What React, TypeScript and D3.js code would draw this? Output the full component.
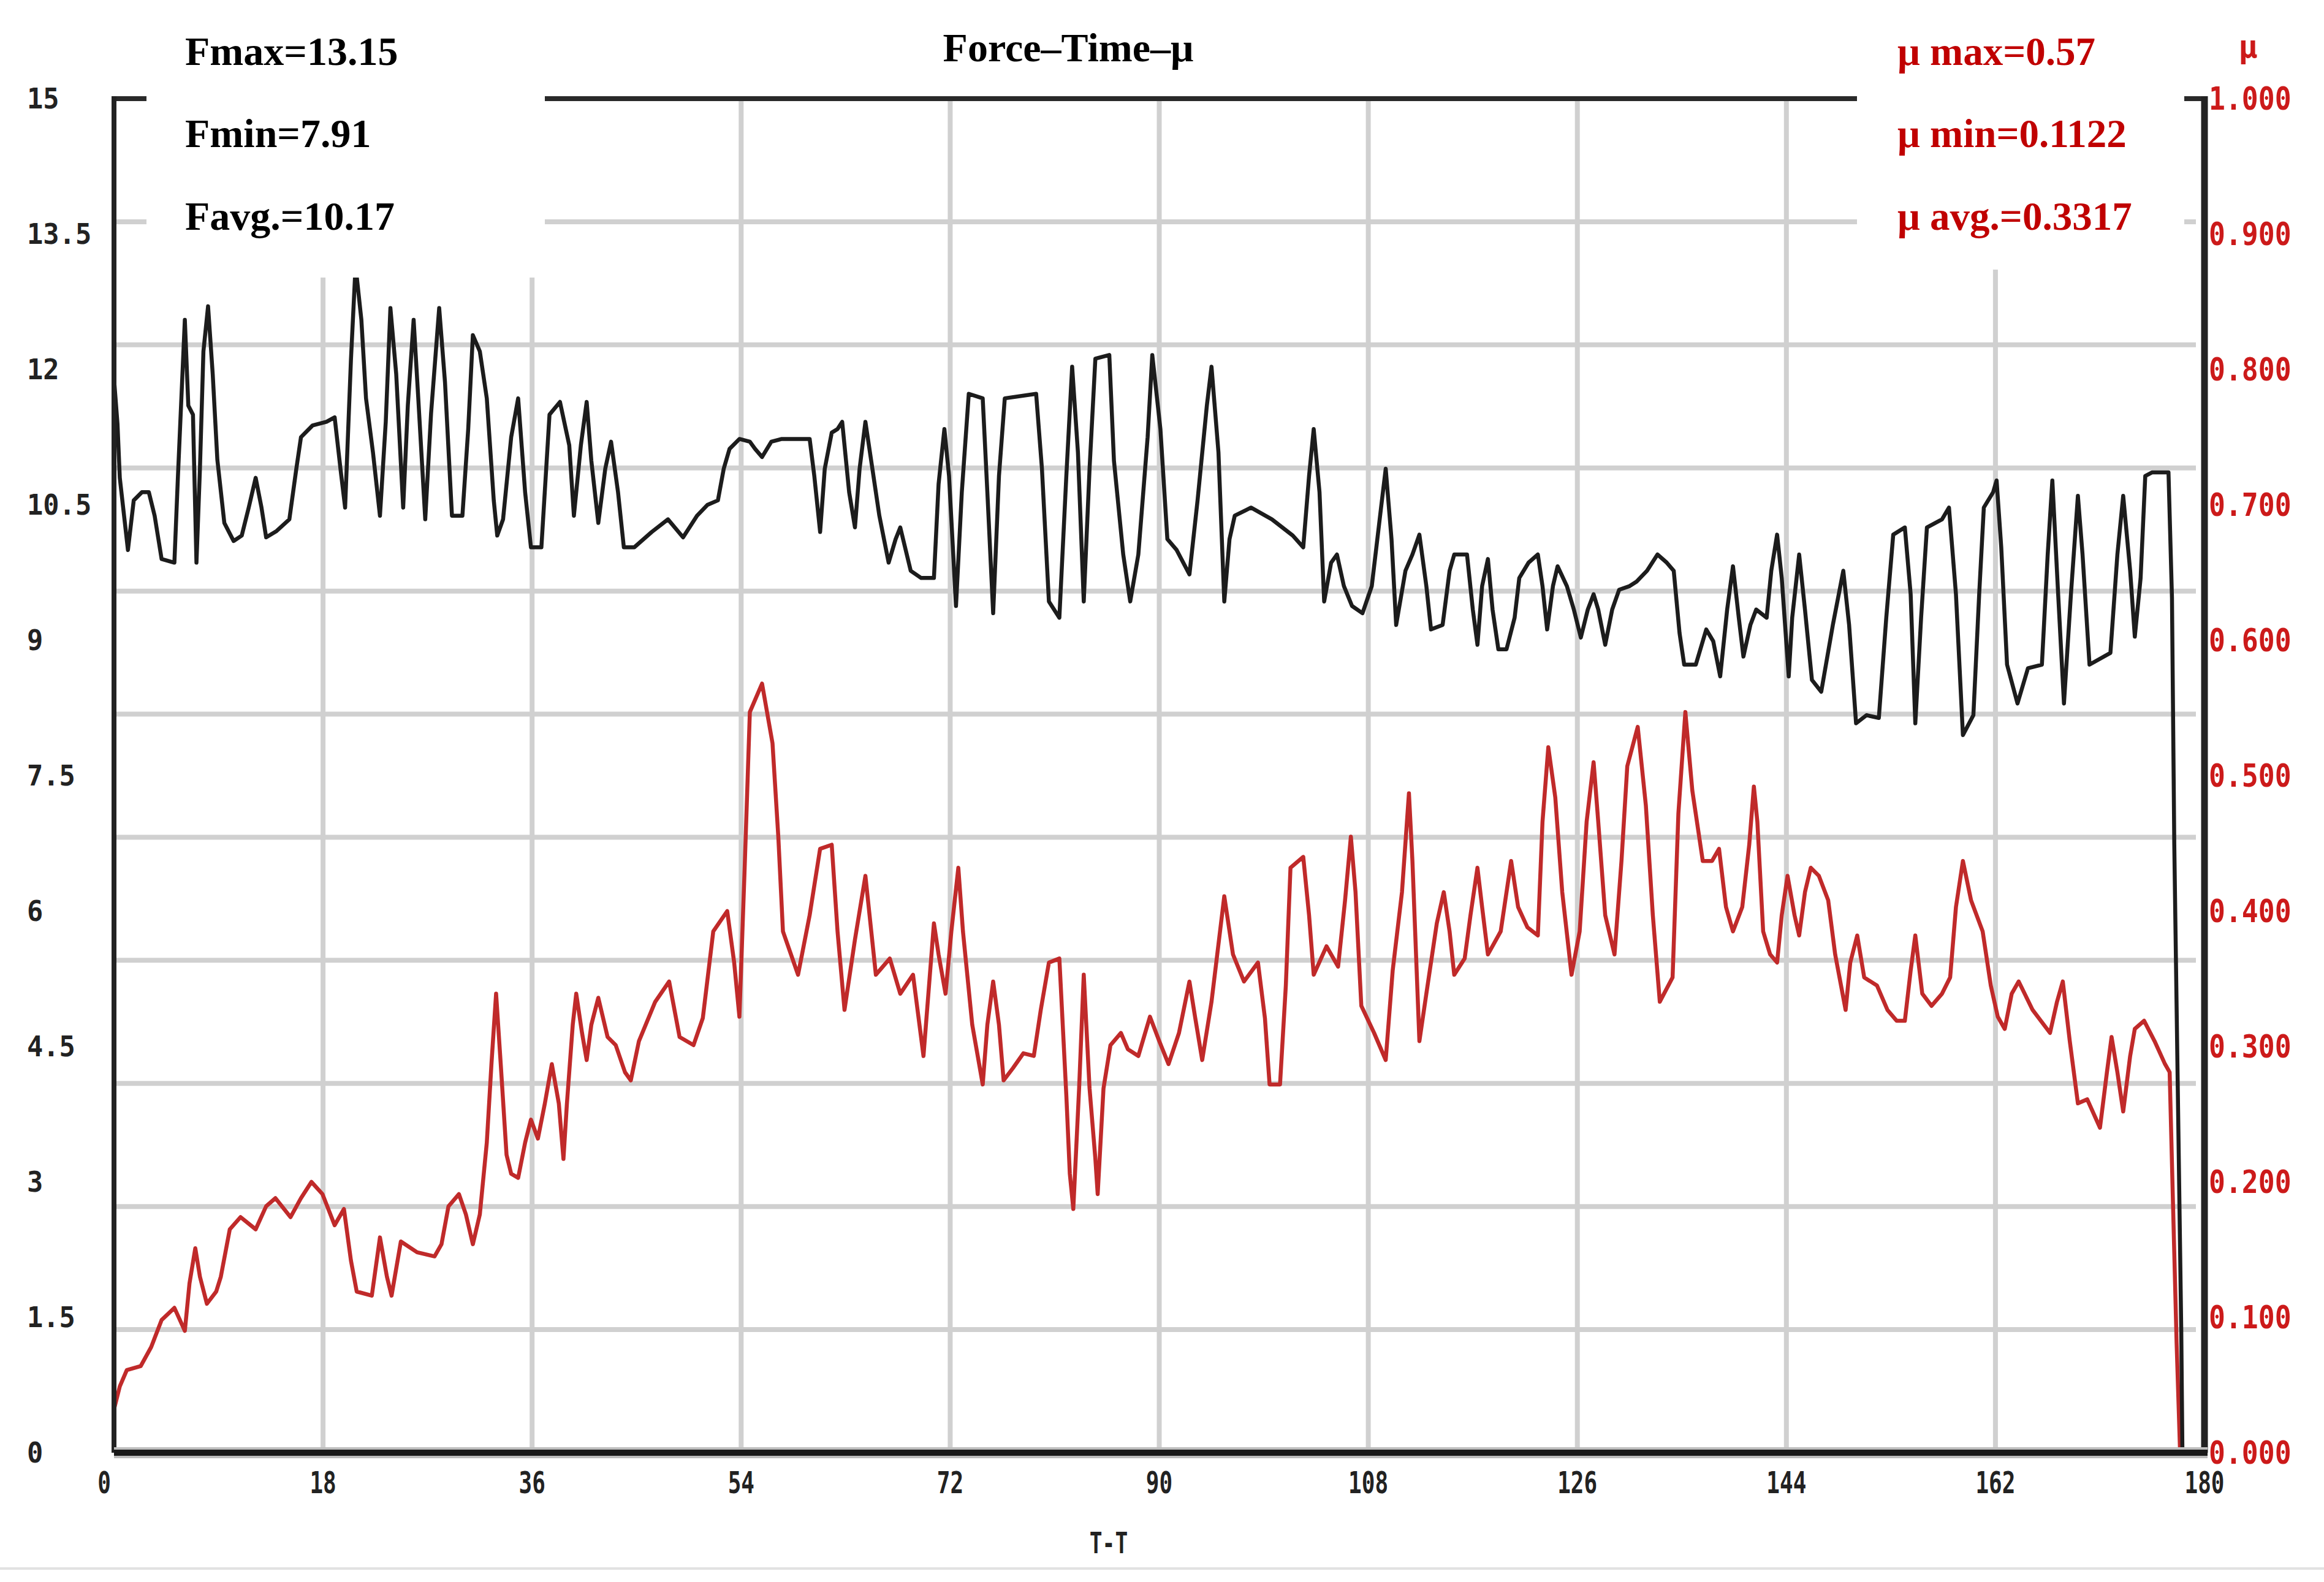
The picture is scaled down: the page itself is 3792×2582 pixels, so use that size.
import { useEffect, useRef } from 'react';
import * as d3 from 'd3';

const W = 3792;
const H = 2582;

// axis ticks
const timeTicks = [0, 18, 36, 54, 72, 90, 108, 126, 144, 162, 180];
const forceTicks = [0, 1.5, 3, 4.5, 6, 7.5, 9, 10.5, 12, 13.5, 15];
const muTicks = [0, 0.1, 0.2, 0.3, 0.4, 0.5, 0.6, 0.7, 0.8, 0.9, 1.0];

// summary texts
const forceStats = ['Fmax=13.15', 'Fmin=7.91', 'Favg.=10.17'];
const muStats = ['\u03bc max=0.57', '\u03bc min=0.1122', '\u03bc avg.=0.3317'];
const chartTitle = 'Force\u2013Time\u2013\u03bc';
const xTitle = 'T-T';

// force series (N)
const forceTime = [
    0, 0.3, 0.5, 1.2, 1.7, 2.4, 3.0, 3.5, 4.1, 5.2, 5.5, 6.1, 6.4, 6.8, 7.1, 7.4, 7.7, 8.1, 8.5, 8.9,
    9.5, 10.3, 11.0, 11.6, 12.2, 12.7, 13.1, 14.0, 15.1, 15.7, 16.1, 17.1, 18.3, 19.0, 19.5, 19.9, 20.4, 20.8, 21.3, 21.7,
    22.3, 22.9, 23.4, 23.8, 24.3, 24.9, 25.3, 25.8, 26.2, 26.8, 27.3, 28.0, 28.5, 29.1, 30.0, 30.5, 30.9, 31.5, 32.1, 32.7,
    33.0, 33.5, 34.2, 34.8, 35.4, 35.9, 36.8, 37.5, 38.4, 39.2, 39.6, 40.2, 40.7, 41.1, 41.7, 42.3, 42.8, 43.4, 43.9, 44.8,
    46.3, 47.7, 49.0, 50.2, 51.1, 52.0, 52.5, 53.0, 53.85, 54.75, 55.2, 55.8, 56.6, 57.5, 59.9, 60.3, 60.8, 61.2, 61.8, 62.3,
    62.7, 63.3, 63.8, 64.2, 64.7, 65.3, 65.9, 66.7, 67.3, 67.7, 68.6, 69.5, 70.6, 71.0, 71.5, 71.9, 72.5, 73.0, 73.6, 74.8,
    75.2, 75.7, 76.2, 76.7, 79.4, 79.9, 80.5, 81.4, 82.0, 82.5, 83.0, 83.5, 84.0, 84.5, 85.7, 86.1, 86.9, 87.5, 88.2, 89.0,
    89.4, 90.1, 90.7, 91.5, 92.6, 93.3, 94.1, 94.5, 95.1, 95.6, 96.05, 96.5, 97.9, 99.7, 101.5, 102.4, 102.9, 103.3, 103.8, 104.2,
    104.8, 105.3, 105.9, 106.6, 107.5, 108.3, 109.1, 109.5, 110.0, 110.4, 111.2, 111.8, 112.4, 113.0, 113.4, 114.4, 115.0, 115.4, 116.5, 117.0,
    117.4, 117.8, 118.3, 118.7, 119.2, 119.9, 120.6, 121.0, 121.8, 122.6, 123.0, 123.4, 123.9, 124.3, 125.1, 125.7, 126.3, 126.9, 127.4, 127.8,
    128.4, 129.0, 129.6, 130.5, 131.1, 132.0, 132.9, 133.7, 134.3, 134.8, 135.2, 136.2, 137.1, 137.7, 138.3, 138.9, 139.4, 139.9, 140.3, 140.9,
    141.4, 142.3, 142.7, 143.2, 143.6, 144.2, 144.5, 145.1, 145.6, 146.2, 147.0, 148.0, 148.9, 149.4, 150.0, 150.9, 151.96, 152.6, 153.2, 154.2,
    154.7, 155.1, 155.6, 156.1, 157.4, 158.0, 158.6, 159.2, 160.1, 160.6, 161.0, 161.8, 162.1, 162.5, 163.0, 163.9, 164.8, 166.0, 166.5, 166.9,
    167.4, 167.9, 168.5, 169.1, 169.5, 170.1, 171.9, 172.5, 173.0, 173.6, 174.0, 174.5, 174.9, 175.5, 176.9, 177.2, 177.4, 177.7, 178.0, 178.1,
];
const forceValues = [
    11.9, 11.4, 10.8, 10.0, 10.55, 10.64, 10.64, 10.38, 9.9, 9.86, 10.8, 12.55, 11.6, 11.5, 9.86, 10.9, 12.2, 12.7, 11.95, 11.0,
    10.3, 10.1, 10.16, 10.47, 10.8, 10.47, 10.14, 10.21, 10.34, 10.9, 11.25, 11.38, 11.42, 11.47, 10.9, 10.47, 12.1, 13.15, 12.55, 11.68,
    11.08, 10.38, 11.42, 12.68, 11.95, 10.47, 11.6, 12.55, 11.68, 10.34, 11.51, 12.68, 11.86, 10.38, 10.38, 11.34, 12.38, 12.2, 11.68, 10.55,
    10.16, 10.34, 11.25, 11.68, 10.64, 10.03, 10.03, 11.5, 11.64, 11.16, 10.38, 11.16, 11.64, 10.99, 10.3, 10.9, 11.2, 10.64, 10.03, 10.03,
    10.2, 10.34, 10.14, 10.38, 10.5, 10.55, 10.9, 11.12, 11.23, 11.2, 11.12, 11.03, 11.2, 11.23, 11.23, 10.82, 10.2, 10.9, 11.3, 11.34,
    11.42, 10.64, 10.25, 10.9, 11.42, 10.9, 10.38, 9.86, 10.12, 10.25, 9.77, 9.69, 9.69, 10.73, 11.34, 10.82, 9.38, 10.64, 11.73, 11.68,
    10.64, 9.3, 10.82, 11.68, 11.73, 10.9, 9.43, 9.25, 10.82, 12.03, 11.08, 9.43, 10.9, 12.12, 12.16, 10.99, 9.95, 9.43, 9.95, 11.25,
    12.16, 11.34, 10.12, 10.0, 9.73, 10.55, 11.6, 12.03, 11.08, 9.43, 10.12, 10.38, 10.47, 10.34, 10.16, 10.03, 10.82, 11.34, 10.64, 9.43,
    9.86, 9.95, 9.6, 9.38, 9.3, 9.6, 10.47, 10.9, 10.12, 9.17, 9.77, 9.95, 10.17, 9.6, 9.12, 9.17, 9.77, 9.95, 9.95, 9.34,
    8.95, 9.6, 9.9, 9.34, 8.9, 8.9, 9.25, 9.69, 9.86, 9.95, 9.6, 9.12, 9.6, 9.82, 9.6, 9.34, 9.03, 9.34, 9.51, 9.34,
    8.95, 9.34, 9.56, 9.6, 9.65, 9.77, 9.95, 9.86, 9.77, 9.08, 8.73, 8.73, 9.12, 8.99, 8.6, 9.34, 9.82, 9.25, 8.82, 9.17,
    9.34, 9.25, 9.77, 10.17, 9.69, 8.6, 9.25, 9.95, 9.34, 8.56, 8.43, 9.17, 9.77, 9.17, 8.08, 8.17, 8.14, 9.25, 10.17, 10.25,
    9.51, 8.08, 9.25, 10.25, 10.34, 10.47, 9.51, 7.95, 8.17, 9.51, 10.47, 10.64, 10.77, 10.03, 8.73, 8.3, 8.69, 8.73, 9.95, 10.77,
    9.51, 8.3, 9.51, 10.6, 9.95, 8.73, 8.86, 9.95, 10.6, 9.77, 9.04, 9.69, 10.82, 10.86, 10.86, 9.47, 6.73, 4.04, 1.35, 0,
];

// friction coefficient series
const muTime = [
    0, 0.5, 1.1, 2.3, 3.2, 4.1, 5.2, 6.1, 6.5, 7.0, 7.4, 8.0, 8.8, 9.2, 9.97, 10.9, 12.2, 13.1, 13.9, 15.2,
    16.1, 17.0, 17.95, 19.0, 19.8, 20.4, 20.9, 22.2, 22.9, 23.5, 23.9, 24.7, 26.1, 27.6, 28.2, 28.8, 29.7, 30.3, 30.9, 31.5,
    32.1, 32.5, 32.9, 33.3, 33.8, 34.2, 34.8, 35.4, 35.9, 36.5, 37.1, 37.7, 38.3, 38.7, 39.0, 39.5, 39.8, 40.3, 40.7, 41.1,
    41.7, 42.5, 43.2, 44.0, 44.5, 45.2, 46.6, 47.8, 48.7, 49.9, 50.7, 51.6, 52.8, 53.4, 53.85, 54.3, 54.75, 55.8, 56.7, 57.2,
    57.6, 58.9, 59.9, 60.8, 61.8, 62.3, 62.9, 63.8, 64.7, 65.6, 66.8, 67.7, 68.8, 69.7, 70.6, 71.0, 71.6, 72.1, 72.7, 73.1,
    73.9, 74.8, 75.2, 75.7, 76.2, 76.6, 77.4, 78.3, 79.2, 79.8, 80.5, 81.4, 82.0, 82.3, 82.6, 83.1, 83.5, 84.0, 84.5, 84.7,
    85.2, 85.8, 86.7, 87.3, 88.2, 89.2, 90.0, 90.8, 91.7, 92.6, 93.1, 93.7, 94.5, 95.6, 96.35, 97.3, 98.5, 99.1, 99.5, 100.4,
    100.9, 101.3, 102.4, 102.9, 103.3, 104.4, 105.4, 106.0, 106.5, 106.9, 107.4, 108.5, 109.5, 110.1, 110.9, 111.5, 111.8, 112.4, 113.0, 113.9,
    114.5, 115.0, 115.4, 116.3, 116.8, 117.4, 117.8, 118.3, 119.4, 120.3, 120.9, 121.7, 122.6, 123.0, 123.5, 124.1, 124.7, 125.5, 126.2, 126.8,
    127.4, 127.8, 128.4, 129.2, 129.8, 130.3, 131.2, 131.9, 132.5, 133.1, 134.2, 134.7, 135.3, 135.9, 136.8, 137.6, 138.2, 138.8, 139.4, 140.2,
    140.8, 141.2, 141.5, 142.0, 142.6, 143.2, 143.6, 144.1, 144.7, 145.1, 145.6, 146.1, 146.8, 147.6, 148.2, 149.1, 149.5, 150.1, 150.7, 151.8,
    152.7, 153.5, 154.2, 154.7, 155.1, 155.7, 156.5, 157.4, 158.1, 158.6, 159.2, 159.9, 160.9, 161.6, 162.2, 162.8, 163.4, 164.0, 165.2, 166.7,
    167.3, 167.8, 168.4, 169.1, 169.9, 171.0, 171.6, 172.0, 172.5, 173.0, 173.6, 174.0, 174.8, 175.7, 176.6, 177.0, 177.3, 177.6, 177.9,
];
const muValues = [
    0.032, 0.049, 0.061, 0.064, 0.078, 0.098, 0.107, 0.09, 0.125, 0.151, 0.13, 0.11, 0.119, 0.13, 0.165, 0.174, 0.165, 0.182, 0.188, 0.174,
    0.188, 0.2, 0.191, 0.168, 0.18, 0.142, 0.119, 0.116, 0.159, 0.13, 0.116, 0.156, 0.148, 0.145, 0.154, 0.182, 0.191, 0.176, 0.154, 0.176,
    0.229, 0.287, 0.339, 0.287, 0.22, 0.206, 0.203, 0.229, 0.246, 0.232, 0.258, 0.287, 0.258, 0.217, 0.258, 0.316, 0.339, 0.31, 0.29, 0.316,
    0.336, 0.307, 0.301, 0.281, 0.275, 0.304, 0.333, 0.348, 0.307, 0.301, 0.321, 0.385, 0.4, 0.362, 0.322, 0.431, 0.547, 0.568, 0.524, 0.455,
    0.385, 0.353, 0.397, 0.446, 0.449, 0.385, 0.327, 0.379, 0.426, 0.353, 0.365, 0.339, 0.353, 0.293, 0.391, 0.368, 0.339, 0.385, 0.432, 0.385,
    0.316, 0.272, 0.316, 0.348, 0.316, 0.275, 0.284, 0.295, 0.293, 0.327, 0.362, 0.365, 0.264, 0.206, 0.18, 0.269, 0.353, 0.269, 0.217, 0.191,
    0.269, 0.301, 0.31, 0.298, 0.293, 0.322, 0.304, 0.287, 0.31, 0.348, 0.321, 0.29, 0.333, 0.411, 0.368, 0.348, 0.362, 0.321, 0.272, 0.272,
    0.345, 0.432, 0.44, 0.397, 0.353, 0.374, 0.359, 0.408, 0.455, 0.414, 0.33, 0.31, 0.29, 0.356, 0.414, 0.487, 0.437, 0.304, 0.339, 0.391,
    0.414, 0.385, 0.353, 0.365, 0.397, 0.432, 0.403, 0.368, 0.385, 0.437, 0.403, 0.388, 0.382, 0.466, 0.521, 0.484, 0.414, 0.353, 0.385, 0.466,
    0.51, 0.466, 0.397, 0.368, 0.437, 0.507, 0.536, 0.478, 0.397, 0.333, 0.351, 0.472, 0.547, 0.489, 0.437, 0.437, 0.446, 0.403, 0.385, 0.403,
    0.449, 0.492, 0.466, 0.385, 0.368, 0.362, 0.397, 0.426, 0.397, 0.382, 0.414, 0.432, 0.426, 0.408, 0.368, 0.327, 0.362, 0.382, 0.351, 0.345,
    0.327, 0.319, 0.319, 0.356, 0.382, 0.339, 0.33, 0.339, 0.351, 0.403, 0.437, 0.408, 0.385, 0.345, 0.322, 0.313, 0.339, 0.348, 0.327, 0.31,
    0.333, 0.348, 0.304, 0.258, 0.261, 0.24, 0.281, 0.307, 0.281, 0.252, 0.293, 0.313, 0.319, 0.304, 0.287, 0.281, 0.18, 0.081, 0,
];

const MONO = '"DejaVu Sans Mono", monospace';
const SERIF = '"Liberation Serif", "DejaVu Serif", serif';

export default function App() {
    const svgRef = useRef<SVGSVGElement>(null);

    useEffect(() => {
        if (!svgRef.current) return;
        const svg = d3.select(svgRef.current);
        svg.selectAll('*').remove();

        const left = 186;
        const right = 3597;
        const top = 161;
        const bottom = 2371;

        const x = d3.scaleLinear().domain([0, 180]).range([left, right]);
        const yF = d3.scaleLinear().domain([0, 15]).range([bottom, top]);
        const yMu = d3.scaleLinear().domain([0, 1]).range([bottom, top]);

        svg.append('rect').attr('width', W).attr('height', H).attr('fill', '#fff');

        // horizontal grid: the instrument splits the force range in 11 bands
        const gridF = d3.range(1, 11).map((k) => (k * 15) / 11);
        svg
            .append('g')
            .selectAll('line')
            .data(gridF)
            .join('line')
            .attr('x1', left)
            .attr('x2', right - 14)
            .attr('y1', (d) => yF(d))
            .attr('y2', (d) => yF(d))
            .attr('stroke', '#d0d0d0')
            .attr('stroke-width', 8);

        svg
            .append('g')
            .selectAll('line')
            .data(timeTicks.slice(1, -1))
            .join('line')
            .attr('x1', (d) => x(d))
            .attr('x2', (d) => x(d))
            .attr('y1', top)
            .attr('y2', bottom)
            .attr('stroke', '#d0d0d0')
            .attr('stroke-width', 8);

        // series
        const forcePts = forceTime.map((t, i) => [t, forceValues[i]] as [number, number]);
        const muPts = muTime.map((t, i) => [t, muValues[i]] as [number, number]);

        svg
            .append('path')
            .datum(muPts)
            .attr('d', d3.line<[number, number]>().x((d) => x(d[0])).y((d) => yMu(d[1])))
            .attr('fill', 'none')
            .attr('stroke', '#c02a2a')
            .attr('stroke-width', 6.5)
            .attr('stroke-linejoin', 'round');

        svg
            .append('path')
            .datum(forcePts)
            .attr('d', d3.line<[number, number]>().x((d) => x(d[0])).y((d) => yF(d[1])))
            .attr('fill', 'none')
            .attr('stroke', '#1c1c1c')
            .attr('stroke-width', 6.5)
            .attr('stroke-linejoin', 'round');

        // frame
        svg.append('line').attr('x1', left).attr('x2', right + 4).attr('y1', top).attr('y2', top)
            .attr('stroke', '#2a2a2a').attr('stroke-width', 8);
        svg.append('line').attr('x1', left).attr('x2', left).attr('y1', top - 4).attr('y2', bottom)
            .attr('stroke', '#222').attr('stroke-width', 8);
        svg.append('line').attr('x1', right).attr('x2', right).attr('y1', top - 4).attr('y2', bottom)
            .attr('stroke', '#222').attr('stroke-width', 11);
        svg.append('line').attr('x1', left).attr('x2', right + 5).attr('y1', bottom).attr('y2', bottom)
            .attr('stroke', '#bdbdbd').attr('stroke-width', 18);
        svg.append('line').attr('x1', left).attr('x2', right + 5).attr('y1', bottom).attr('y2', bottom)
            .attr('stroke', '#1a1a1a').attr('stroke-width', 10);

        // white boxes behind the summary texts
        svg.append('rect').attr('x', 239).attr('y', 0).attr('width', 650).attr('height', 453).attr('fill', '#fff');
        svg.append('rect').attr('x', 1463).attr('y', 0).attr('width', 650).attr('height', 157).attr('fill', '#fff');
        svg.append('rect').attr('x', 3030).attr('y', 0).attr('width', 534).attr('height', 440).attr('fill', '#fff');

        // tick labels
        const fmtF = (v: number) => (Number.isInteger(v) ? `${v}` : v.toFixed(1));
        svg
            .append('g')
            .selectAll('text')
            .data(forceTicks)
            .join('text')
            .attr('transform', (d) => `translate(44,${yF(d)}) scale(0.95,1)`)
            .attr('dominant-baseline', 'central')
            .attr('font-family', MONO)
            .attr('font-weight', 'bold')
            .attr('font-size', 46)
            .attr('fill', '#222')
            .text(fmtF);

        svg
            .append('g')
            .selectAll('text')
            .data(muTicks)
            .join('text')
            .attr('transform', (d) => `translate(3604,${yMu(d)}) scale(0.86,1)`)
            .attr('dominant-baseline', 'central')
            .attr('font-family', MONO)
            .attr('font-weight', 'bold')
            .attr('font-size', 52)
            .attr('fill', '#cc1a1a')
            .text((d) => d.toFixed(3));

        svg
            .append('g')
            .selectAll('text')
            .data(timeTicks)
            .join('text')
            .attr('transform', (d) => `translate(${x(d) - (d === 0 ? 16 : 0)},2420) scale(0.72,1)`)
            .attr('text-anchor', 'middle')
            .attr('dominant-baseline', 'central')
            .attr('font-family', MONO)
            .attr('font-weight', 'bold')
            .attr('font-size', 50)
            .attr('fill', '#222')
            .text((d) => `${d}`);

        svg.append('text')
            .attr('transform', 'translate(1809,2518) scale(0.72,1)')
            .attr('text-anchor', 'middle')
            .attr('dominant-baseline', 'central')
            .attr('font-family', MONO)
            .attr('font-weight', 'bold')
            .attr('font-size', 48)
            .attr('fill', '#222')
            .text(xTitle);

        svg.append('text')
            .attr('x', 3668)
            .attr('y', 76)
            .attr('text-anchor', 'middle')
            .attr('dominant-baseline', 'central')
            .attr('font-family', MONO)
            .attr('font-weight', 'bold')
            .attr('font-size', 52)
            .attr('fill', '#cc1a1a')
            .text('\u03bc');

        // summary texts and title
        const baselines = [106, 240, 375];
        forceStats.forEach((s, i) => {
            svg.append('text')
                .attr('x', 302)
                .attr('y', baselines[i])
                .attr('font-family', SERIF)
                .attr('font-weight', 'bold')
                .attr('font-size', 66)
                .attr('fill', '#000')
                .text(s);
        });
        muStats.forEach((s, i) => {
            svg.append('text')
                .attr('x', 3096)
                .attr('y', baselines[i])
                .attr('font-family', SERIF)
                .attr('font-weight', 'bold')
                .attr('font-size', 65)
                .attr('fill', '#c00000')
                .text(s);
        });
        svg.append('text')
            .attr('x', 1743)
            .attr('y', 100)
            .attr('text-anchor', 'middle')
            .attr('font-family', SERIF)
            .attr('font-weight', 'bold')
            .attr('font-size', 66)
            .attr('fill', '#000')
            .text(chartTitle);

        // light frame line at the bottom of the figure
        svg.append('line').attr('x1', 0).attr('x2', W).attr('y1', 2560).attr('y2', 2560)
            .attr('stroke', '#e2e2e2').attr('stroke-width', 4);
    }, []);

    return (
        <div style={{ position: 'absolute', left: 0, top: 0 }}>
            <svg ref={svgRef} width={W} height={H} style={{ display: 'block' }}></svg>
        </div>
    );
}
